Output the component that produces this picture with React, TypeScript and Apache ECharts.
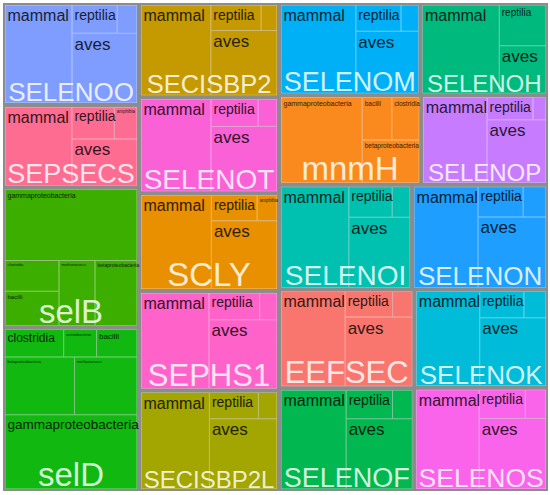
import React, { useEffect, useRef } from 'react';
import * as echarts from 'echarts';

// ---------------- data ----------------
const col1Genes = ['SELENOO', 'SEPSECS', 'selB', 'selD'];
const col2Genes = ['SECISBP2', 'SELENOT', 'SCLY', 'SEPHS1', 'SECISBP2L'];
const col3Genes = ['SELENOM', 'SELENOH', 'mnmH', 'SELENOP', 'SELENOI', 'SELENON', 'EEFSEC', 'SELENOF', 'SELENOK', 'SELENOS'];

const vertebrateClasses = ['mammal', 'reptilia', 'amphibia', 'aves'];
const vertebrateGenes = ['SELENOO', 'SEPSECS', 'SECISBP2', 'SELENOT', 'SCLY', 'SEPHS1', 'SECISBP2L', 'SELENOM', 'SELENOH', 'SELENOP', 'SELENOI', 'SELENON', 'EEFSEC', 'SELENOF', 'SELENOK', 'SELENOS'];
const mammalValues = [6800, 5500, 6510, 6650, 6800, 6700, 6800, 6800, 7000, 5630, 7000, 6600, 6240, 6600, 6140, 6400];
const reptiliaValues = [1330, 1420, 1330, 1320, 1200, 1400, 1320, 1220, 1960, 1060, 1360, 1400, 1250, 1360, 1200, 1360];
const amphibiaValues = [580, 760, 420, 530, 520, 480, 500, 470, 0, 300, 560, 710, 520, 580, 600, 610];
const avesValues = [4690, 3170, 4420, 4420, 4620, 4820, 4900, 4000, 2300, 3835, 4400, 4900, 4760, 4760, 4620, 4830];

const mnmHClasses = ['gammaproteobacteria', 'bacilli', 'clostridia', 'betaproteobacteria'];
const mnmHValues = [7128, 1300, 1200, 2508];
const selBClasses = ['gammaproteobacteria', 'clostridia', 'bacilli', 'methanococci', 'betaproteobacteria'];
const selBValues = [9600, 1700, 1900, 2400, 2800];
const selDClasses = ['clostridia', 'actinobacteria', 'bacilli', 'betaproteobacteria', 'methanococci', 'gammaproteobacteria'];
const selDValues = [1640, 920, 1130, 4100, 3690, 10000];

// ---------------- styles ----------------
const FONT = '"Liberation Sans", Arial, Helvetica, sans-serif';
const FRAME = '#8c8c8c';
const geneColors: Record<string, string> = {
  SELENOO: '#7F9CFF', SEPSECS: '#FF6C91', selB: '#3CAE00', selD: '#10B810',
  SECISBP2: '#C49A00', SELENOT: '#FB61D7', SCLY: '#E99000', SEPHS1: '#FF62C8', SECISBP2L: '#A3A500',
  SELENOM: '#00B0F6', SELENOH: '#00BA7D', mnmH: '#FB8A1E', SELENOP: '#C77CFF', SELENOI: '#00C0AF',
  SELENON: '#1E9EFF', EEFSEC: '#F8766D', SELENOF: '#00B84F', SELENOK: '#00BCD8', SELENOS: '#FA64EA',
};
const geneLabelSize: Record<string, number> = {
  SELENOO: 26, SEPSECS: 27, selB: 33, selD: 33, SECISBP2: 25.5, SELENOT: 28, SCLY: 33, SEPHS1: 31,
  SECISBP2L: 24, SELENOM: 27, SELENOH: 24, mnmH: 33, SELENOP: 24, SELENOI: 28, SELENON: 26,
  EEFSEC: 31, SELENOF: 27, SELENOK: 26, SELENOS: 26.5,
};
const classFont: Record<string, number> = { mammal: 16, reptilia: 14, aves: 17 };
const classFontOverride: Record<string, number> = {
  'SELENOH/reptilia': 10,
  'SEPSECS/amphibia': 4.5,
  'SCLY/amphibia': 4.5,
  'mnmH/gammaproteobacteria': 7, 'mnmH/bacilli': 6.5, 'mnmH/clostridia': 6.5, 'mnmH/betaproteobacteria': 6.5,
  'selB/gammaproteobacteria': 7, 'selB/clostridia': 4, 'selB/bacilli': 6, 'selB/methanococci': 4, 'selB/betaproteobacteria': 5,
  'selD/clostridia': 12, 'selD/actinobacteria': 4, 'selD/bacilli': 8, 'selD/betaproteobacteria': 4,
  'selD/methanococci': 4, 'selD/gammaproteobacteria': 13.5,
};

function mix(hex: string, target: number, t: number) {
  const n = parseInt(hex.slice(1), 16);
  const ch = [(n >> 16) & 255, (n >> 8) & 255, n & 255].map((c) => Math.round(c + (target - c) * t));
  return `rgb(${ch[0]},${ch[1]},${ch[2]})`;
}

const bacterialTable: Record<string, { classes: string[]; values: number[] }> = {
  mnmH: { classes: mnmHClasses, values: mnmHValues },
  selB: { classes: selBClasses, values: selBValues },
  selD: { classes: selDClasses, values: selDValues },
};

function classesOf(gene: string) {
  const b = bacterialTable[gene];
  if (b) return b.classes.map((c, i) => ({ c, v: b.values[i] }));
  const i = vertebrateGenes.indexOf(gene);
  const vals = [mammalValues[i], reptiliaValues[i], amphibiaValues[i], avesValues[i]];
  return vertebrateClasses.map((c, k) => ({ c, v: vals[k] }));
}

function labelFor(gene: string, cls: string, color: string) {
  const key = gene + '/' + cls;
  const size = classFontOverride[key] !== undefined ? classFontOverride[key] : classFont[cls];
  if (!size) return { show: false };
  return { show: true, fontSize: size, color };
}

function geneChildren(gene: string) {
  const fill = geneColors[gene];
  const dark = mix(fill, 0, 0.8);
  const line = mix(fill, 255, 0.45);
  return classesOf(gene)
    .filter((d) => d.v > 0)
    .map((d) => ({
      name: d.c,
      value: d.v,
      itemStyle: { color: fill, borderColor: line },
      label: labelFor(gene, d.c, dark),
    }));
}

function geneTotal(gene: string) {
  return classesOf(gene).reduce((s, d) => s + d.v, 0);
}

const TOP = 3;
const HEIGHT = 488;

function seriesPair(genes: string[], left: number, width: number) {
  const common = {
    type: 'treemap',
    left, top: TOP, width, height: HEIGHT,
    roam: false, nodeClick: false, sort: false, squareRatio: 1,
    breadcrumb: { show: false },
    animation: false,
    upperLabel: { show: false },
  };
  const main = {
    ...common,
    z: 2,
    label: {
      show: true, position: 'insideTopLeft', distance: 0, padding: [2, 2, 0, 2],
      fontFamily: FONT, overflow: 'none', color: '#000',
    },
    itemStyle: { borderColor: FRAME },
    levels: [
      { itemStyle: { borderWidth: 0, gapWidth: 0, borderColor: FRAME } },
      { itemStyle: { borderWidth: 2, gapWidth: 0, borderColor: FRAME } },
      { itemStyle: { borderWidth: 0.5, gapWidth: 0 } },
    ],
    data: genes.map((g) => ({
      name: g,
      itemStyle: { color: geneColors[g], borderColor: FRAME },
      children: geneChildren(g),
    })),
  };
  const clear = { color: 'transparent', borderColor: 'transparent', borderWidth: 0, gapWidth: 0 };
  const overlay = {
    ...common,
    z: 10,
    silent: true,
    itemStyle: clear,
    levels: [{ itemStyle: clear }, { itemStyle: clear }],
    label: {
      show: true, position: 'insideBottom', distance: 0, padding: 0,
      fontFamily: FONT, overflow: 'none',
    },
    data: genes.map((g) => ({
      name: g,
      value: geneTotal(g),
      itemStyle: clear,
      label: { fontSize: geneLabelSize[g], color: mix(geneColors[g], 255, 0.82) },
    })),
  };
  return [main, overlay];
}

export default function App() {
  const ref = useRef<HTMLDivElement>(null);
  useEffect(() => {
    document.body.style.margin = '0';
    const chart = echarts.init(ref.current!, undefined, { renderer: 'svg' });
    const s1 = seriesPair(col1Genes, 3, 136);
    const s2 = seriesPair(col2Genes, 139, 140);
    const s3 = seriesPair(col3Genes, 279, 269);
    chart.setOption({
      animation: false,
      series: [s1[0], s2[0], s3[0], s1[1], s2[1], s3[1]],
    } as any);
    return () => chart.dispose();
  }, []);
  return <div ref={ref} style={{ width: 550, height: 495 }} />;
}
